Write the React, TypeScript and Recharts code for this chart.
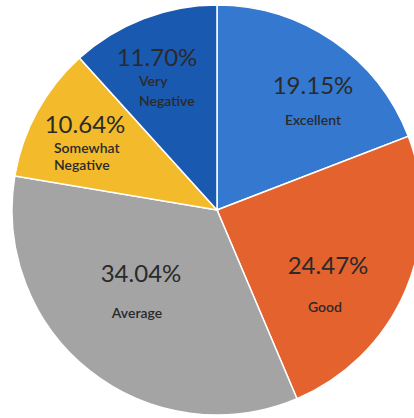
import React from 'react';
import { PieChart, Pie, Cell } from 'recharts';

// slices in clockwise order from 12 o'clock
const categories = ['Excellent', 'Good', 'Average', 'Somewhat Negative', 'Very Negative'];
const shares = [19.15, 24.47, 34.04, 10.64, 11.7];
const percentLabels = ['19.15%', '24.47%', '34.04%', '10.64%', '11.70%'];
const nameLines = [['Excellent'], ['Good'], ['Average'], ['Somewhat', 'Negative'], ['Very', 'Negative']];

const colors = ['#3479cf', '#e4622d', '#a4a4a4', '#f3bb2b', '#1a59b0'];

// label layout relative to pie centre
const labelLayout = [
  { pct: [96, -126], names: [[96, -91]], anchor: 'middle' },
  { pct: [111, 54], names: [[108, 96]], anchor: 'middle' },
  { pct: [-76, 62], names: [[-80, 102]], anchor: 'middle' },
  { pct: [-132, -87], names: [[-163, -63], [-163, -46]], anchor: 'start' },
  { pct: [-60, -154], names: [[-78, -130], [-78, -110]], anchor: 'start' },
];

const data = categories.map((name, i) => ({ name, value: shares[i] }));

const FONT = 'Lato, "Open Sans", sans-serif';

const renderLabel = (props: any) => {
  const { cx, cy, index } = props;
  const lay = labelLayout[index];
  return (
    <g>
      <text
        x={cx + lay.pct[0]}
        y={cy + lay.pct[1]}
        textAnchor="middle"
        dominantBaseline="central"
        fontSize={24}
        fontFamily={FONT}
        fill="#2a2a2a"
      >
        {percentLabels[index]}
      </text>
      {nameLines[index].map((line, j) => (
        <text
          key={j}
          x={cx + lay.names[j][0]}
          y={cy + lay.names[j][1]}
          textAnchor={lay.anchor as any}
          dominantBaseline="central"
          fontSize={14}
          fontWeight={600}
          fontFamily={FONT}
          fill="#2a2a2a"
        >
          {line}
        </text>
      ))}
    </g>
  );
};

export default function App() {
  return (
    <div style={{ position: 'absolute', left: 0, top: 0, width: 414, height: 418, background: '#fff' }}>
      <PieChart width={414} height={418} margin={{ top: 0, right: 0, bottom: 0, left: 0 }}>
        <Pie
          data={data}
          dataKey="value"
          nameKey="name"
          cx={217}
          cy={210}
          outerRadius={205}
          startAngle={90}
          endAngle={-270}
          stroke="#ffffff"
          strokeWidth={1.5}
          label={renderLabel}
          labelLine={false}
          isAnimationActive={false}
        >
          {data.map((d, i) => (
            <Cell key={d.name} fill={colors[i]} />
          ))}
        </Pie>
      </PieChart>
    </div>
  );
}
